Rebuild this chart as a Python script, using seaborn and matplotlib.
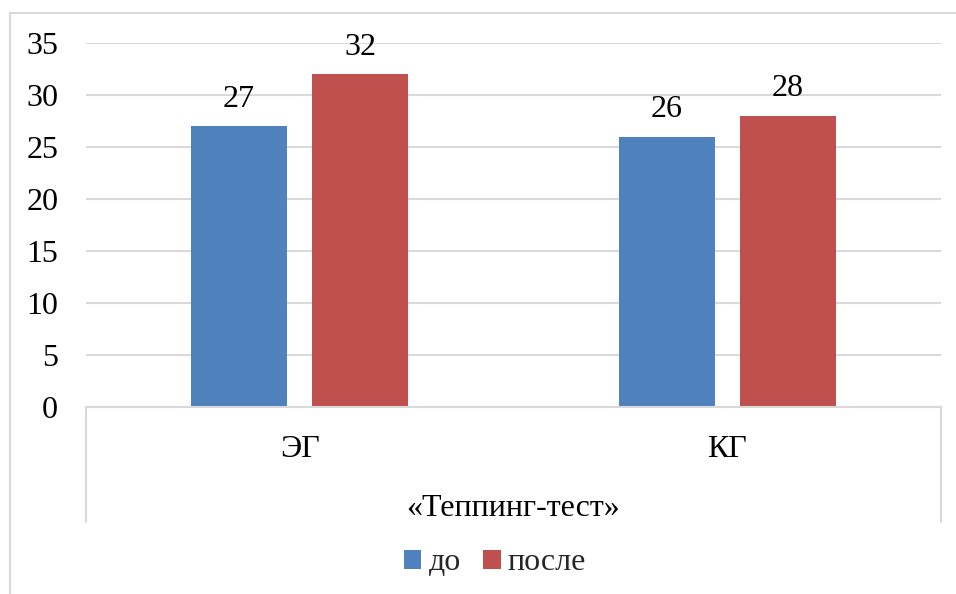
import matplotlib
matplotlib.use("Agg")
import matplotlib.pyplot as plt
from matplotlib.lines import Line2D
from matplotlib.patches import Patch
import seaborn as sns
import pandas as pd

# Data
groups = ["ЭГ", "КГ"]
series = ["до", "после"]
before = [27, 26]
after = [32, 28]
y_ticks = [0, 5, 10, 15, 20, 25, 30, 35]
test_name = "«Теппинг-тест»"

colors = ["#4F81BD", "#C0504D"]
grid_color = "#D9D9D9"

df = pd.DataFrame({
    "group": groups * 2,
    "stage": [series[0]] * len(groups) + [series[1]] * len(groups),
    "value": before + after,
})

sns.set_theme(style="white")
plt.rcParams["font.family"] = ["Liberation Serif", "DejaVu Serif"]
FS = 23

W, H = 956, 594
fig = plt.figure(figsize=(W / 100, H / 100), dpi=100)
ax = fig.add_axes([86 / W, 1 - 407 / H, (941 - 86) / W, (407 - 43) / H])

sns.barplot(data=df, x="group", y="value", hue="stage", order=groups,
            hue_order=series, palette=colors, width=0.568, gap=0.21,
            edgecolor="none", saturation=1, legend=False, ax=ax)

for cont in ax.containers:
    ax.bar_label(cont, fmt="%d", padding=9, fontsize=FS, color="black")

ax.set_ylim(0, 35)
ax.set_yticks(y_ticks)
ax.set_xlim(-0.5, 1.5)
ax.yaxis.grid(True, color=grid_color, linewidth=1.5)
ax.set_axisbelow(True)
for side in ["left", "right", "top"]:
    ax.spines[side].set_visible(False)
ax.spines["bottom"].set_color(grid_color)
ax.spines["bottom"].set_linewidth(1.5)
ax.tick_params(axis="y", length=0, pad=20, labelsize=FS, labelcolor="black")
ax.tick_params(axis="x", length=0, pad=20, labelsize=FS, labelcolor="black")
ax.set_ylabel("")
ax.set_xlabel(test_name, fontsize=FS, color="black", labelpad=22)

# Category separators below the axis
depth = (522 - 407) / (407 - 43)
for xa in (0, 1):
    ax.add_line(Line2D([xa, xa], [0, -depth], transform=ax.transAxes,
                       color=grid_color, linewidth=1.5, clip_on=False))

# Chart area frame
fx, fy = 9.5 / W, 1 - 12.5 / H
fig.add_artist(Line2D([fx, fx], [0, fy], transform=fig.transFigure,
                      color=grid_color, linewidth=1.5))
fig.add_artist(Line2D([fx, 1], [fy, fy], transform=fig.transFigure,
                      color=grid_color, linewidth=1.5))

handles = [Patch(facecolor=c, edgecolor="none") for c in colors]
fig.legend(handles, series, loc="center", bbox_to_anchor=(495 / W, 1 - 563 / H),
           ncol=2, frameon=False, fontsize=FS, handlelength=0.55,
           handleheight=0.55, handletextpad=0.22, columnspacing=0.7)

fig.savefig("out.png", dpi=100)
